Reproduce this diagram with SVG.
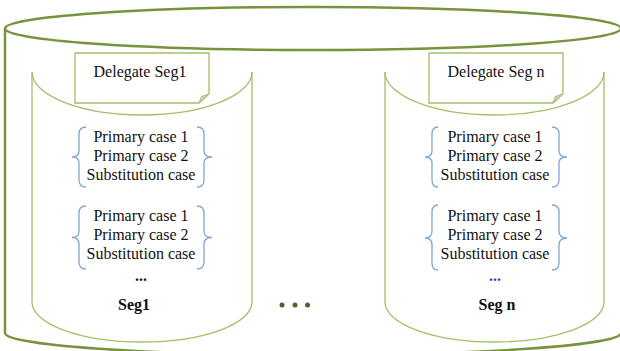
<svg xmlns="http://www.w3.org/2000/svg" width="620" height="351" viewBox="0 0 620 351">
<style>
.outer{fill:none;stroke:#77933C;stroke-width:2.5}
.inner{fill:none;stroke:#A5BF68;stroke-width:1.3}
.box{fill:#fff;stroke:#A5BF68;stroke-width:1.3}
.fold{fill:#D0D4C4;stroke:#A5BF68;stroke-width:1}
.brace{fill:none;stroke:#7FA6D8;stroke-width:1.3}
.t{font-family:"Liberation Serif","Times New Roman",serif;font-size:16px;fill:#111;text-anchor:middle}
.b{font-weight:bold}
</style>
<rect width="620" height="351" fill="#fff"/>
<g id="outer-cylinder">
<path class="outer" d="M5,29 V333 A308,22 0 0 0 621,333"/>
<ellipse class="outer" cx="313" cy="28.5" rx="308" ry="21.5"/>
</g>
<g id="seg1">
<path class="inner" d="M32,72 A110,43 0 0 0 252,72"/>
<path class="inner" d="M32,72 V302 A110,40 0 0 0 252,302 V72"/>
<g id="delegate-seg1">
<path class="box" d="M75,53 H209 V94 L199,103 H75 Z"/>
<path class="fold" d="M209,94 L199,103 L201.5,96.5 Z"/>
<text class="t" x="140" y="77">Delegate Seg1</text>
</g>
<g id="seg1-group1">
<path class="brace" d="M86,127 Q79,127 79,134 V151 Q79,157 72,157 Q79,157 79,163 V180 Q79,187 86,187"/>
<path class="brace" d="M197,127 Q204,127 204,134 V151 Q204,157 212,157 Q204,157 204,163 V180 Q204,187 197,187"/>
<text class="t" x="141" y="142">Primary case 1</text>
<text class="t" x="141" y="161">Primary case 2</text>
<text class="t" x="141" y="180">Substitution case</text>
</g>
<g id="seg1-group2">
<path class="brace" d="M86,206 Q79,206 79,213 V231 Q79,237.5 72,237.5 Q79,237.5 79,244 V262 Q79,269 86,269"/>
<path class="brace" d="M197,206 Q204,206 204,213 V231 Q204,237.5 212,237.5 Q204,237.5 204,244 V262 Q204,269 197,269"/>
<text class="t" x="141" y="221">Primary case 1</text>
<text class="t" x="141" y="240">Primary case 2</text>
<text class="t" x="141" y="259">Substitution case</text>
<text class="t b" x="141" y="281">...</text>
</g>
<text class="t b" x="134" y="310">Seg1</text>
</g>
<g id="segn">
<path class="inner" d="M385,72 A109.5,43 0 0 0 604,72"/>
<path class="inner" d="M385,72 V302 A109.5,40 0 0 0 604,302 V72"/>
<g id="delegate-segn">
<path class="box" d="M429,53 H563 V94 L553,103 H429 Z"/>
<path class="fold" d="M563,94 L553,103 L555.5,96.5 Z"/>
<text class="t" x="496" y="77">Delegate Seg n</text>
</g>
<g id="segn-group1">
<path class="brace" d="M438,127 Q432,127 432,134 V151 Q432,157 425,157 Q432,157 432,163 V180 Q432,187 438,187"/>
<path class="brace" d="M552,127 Q559,127 559,134 V151 Q559,157 567,157 Q559,157 559,163 V180 Q559,187 552,187"/>
<text class="t" x="495" y="142">Primary case 1</text>
<text class="t" x="495" y="161">Primary case 2</text>
<text class="t" x="495" y="180">Substitution case</text>
</g>
<g id="segn-group2">
<path class="brace" d="M438,205 Q432,205 432,212 V231 Q432,238 425,238 Q432,238 432,245 V263 Q432,270 438,270"/>
<path class="brace" d="M552,205 Q559,205 559,212 V231 Q559,238 567,238 Q559,238 559,245 V263 Q559,270 552,270"/>
<text class="t" x="495" y="221">Primary case 1</text>
<text class="t" x="495" y="240">Primary case 2</text>
<text class="t" x="495" y="259">Substitution case</text>
<text class="t b" x="495" y="281" style="fill:#2F4A8A">...</text>
</g>
<text class="t b" x="497" y="310">Seg n</text>
</g>
<g id="middle-dots" fill="#4F6228">
<circle cx="282" cy="305" r="2.5"/>
<circle cx="295" cy="305" r="2.5"/>
<circle cx="307.5" cy="305" r="2.5"/>
</g>
</svg>
